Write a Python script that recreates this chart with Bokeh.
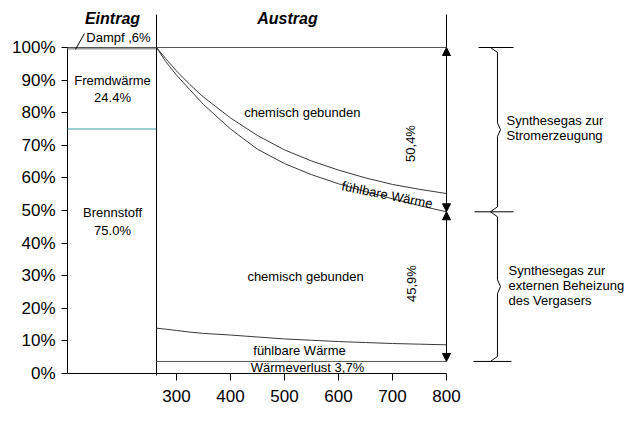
from bokeh.plotting import figure
from bokeh.models import (Range1d, FixedTicker, NumeralTickFormatter, Label, Arrow,
                          NormalHead)
from bokeh.core.properties import value
from bokeh.embed import file_html
from bokeh.resources import INLINE

# ---------------- data ----------------
temps = [263, 280, 300, 325, 350, 400, 450, 500, 550, 600, 650, 700, 750, 800]
chem_upper = [1.000, 0.966, 0.928, 0.886, 0.848, 0.784, 0.730, 0.686, 0.652, 0.624, 0.600, 0.580, 0.565, 0.552]
sens_upper = [1.000, 0.957, 0.915, 0.870, 0.825, 0.750, 0.688, 0.644, 0.610, 0.582, 0.558, 0.536, 0.515, 0.496]
sens_lower = [0.139, 0.136, 0.132, 0.127, 0.123, 0.118, 0.112, 0.106, 0.102, 0.098, 0.095, 0.092, 0.090, 0.088]
heat_loss = 0.037
fuel_share = 0.75
steam_share = 0.006
split_share = 0.496
x_ticks = [300, 400, 500, 600, 700, 800]
y_ticks = [0.0, 0.1, 0.2, 0.3, 0.4, 0.5, 0.6, 0.7, 0.8, 0.9, 1.0]

FONT = "Liberation Sans"
X0 = 94.45          # left edge of the plotting frame
XA = X0 + 3.7       # position of the drawn y-axis line
T0 = temps[0]       # boundary Eintrag / Austrag
T1 = temps[-1]

p = figure(width=635, height=432, output_backend="svg", toolbar_location=None,
           x_range=Range1d(X0, 1150), y_range=Range1d(-0.00613, 1.1442),
           min_border_left=65, min_border_right=0, min_border_top=0, min_border_bottom=57)
p.outline_line_color = None
p.xgrid.visible = False
p.ygrid.visible = False

# axes
p.xaxis.ticker = FixedTicker(ticks=x_ticks)
p.xaxis.axis_line_color = None
p.xaxis.major_tick_in = 2
p.xaxis.major_tick_out = 5
p.xaxis.minor_tick_line_color = None
p.xaxis.major_label_text_font = FONT
p.xaxis.major_label_text_font_size = "17px"
p.xaxis.major_label_standoff = 9
p.xaxis.major_label_text_color = "black"

p.yaxis.ticker = FixedTicker(ticks=y_ticks)
p.yaxis.formatter = NumeralTickFormatter(format="0%")
p.yaxis.axis_line_color = None
p.yaxis.major_tick_in = 2
p.yaxis.major_tick_out = 4
p.yaxis.minor_tick_line_color = None
p.yaxis.major_label_text_font = FONT
p.yaxis.major_label_text_font_size = "17px"
p.yaxis.major_label_standoff = 6
p.yaxis.major_label_text_color = "black"

# axis lines drawn manually
p.segment(x0=[XA], y0=[0], x1=[XA], y1=[1.0], line_color="black", line_width=1)
p.segment(x0=[XA], y0=[0], x1=[T1], y1=[0], line_color="black", line_width=1)

# Eintrag column
p.varea(x=[XA, T0], y1=[1.0 - steam_share] * 2, y2=[1.0] * 2, fill_color="#9a9a9a")
p.line([XA, T0], [fuel_share] * 2, line_color="#3a9ea0", line_width=1.2)

# top 100% line
p.line([XA, T1], [1.0, 1.0], line_color="#555555", line_width=1)

# divider and right vertical
p.segment(x0=[T0], y0=[1.101], x1=[T0], y1=[0], line_color="black", line_width=1)
p.segment(x0=[T1], y0=[1.101], x1=[T1], y1=[1.0], line_color="black", line_width=1)
p.add_layout(Arrow(x_start=T0, y_start=0, x_end=T0, y_end=-0.046, end=None,
                   line_color="black", line_width=1))

# Austrag curves
p.line(temps, chem_upper, line_color="#3a3a3a", line_width=1)
p.line(temps, sens_upper, line_color="#3a3a3a", line_width=1)
p.line(temps, sens_lower, line_color="#3a3a3a", line_width=1)
p.line([T0, T1], [heat_loss] * 2, line_color="#555555", line_width=1)

# arrows at 800 K
def head():
    return NormalHead(size=8, fill_color="black", line_color="black")

p.add_layout(Arrow(x_start=T1, y_start=split_share, x_end=T1, y_end=1.0,
                   start=head(), end=head(), line_color="black", line_width=1))
p.add_layout(Arrow(x_start=T1, y_start=split_share, x_end=T1, y_end=heat_loss,
                   start=head(), end=head(), line_color="black", line_width=1))

# braces
def brace(y0, y1, xv=894.4, curl_dx=13.0, curl_dy=0.0153, notch_dx=5.6, notch_dy=0.021):
    ym = (y0 + y1) / 2
    xs = [xv - curl_dx, xv, xv, xv + notch_dx, xv, xv, xv - curl_dx]
    ys = [y0, y0 - curl_dy, ym + notch_dy, ym, ym - notch_dy, y1 + curl_dy, y1]
    p.line(xs, ys, line_color="black", line_width=1)

brace(1.0, split_share)
brace(split_share, heat_loss)
p.segment(x0=[859.3, 851.9, 850.0], y0=[1.0, split_share, heat_loss],
          x1=[924.1, 924.1, 920.4], y1=[1.0, split_share, heat_loss],
          line_color="black", line_width=1)

# leader for Dampf
p.segment(x0=[113], y0=[0.994], x1=[129.6], y1=[1.043], line_color="black", line_width=1)

# texts
def txt(x, y, s, size="13px", angle=0.0, align="center", style="normal"):
    p.text(x=[x], y=[y], text=[s], text_font=value(FONT), text_font_size=size,
           text_align=align, text_baseline="middle", angle=angle, text_color="black",
           text_font_style=style)

txt(181.5, 1.089, "Eintrag", size="16px", style="bold italic")
txt(505.6, 1.089, "Austrag", size="16px", style="bold italic")
txt(192.6, 1.031, "Dampf ,6%")
txt(181.5, 0.899, "Fremdwärme")
txt(181.5, 0.847, "24.4%")
txt(181.5, 0.494, "Brennstoff")
txt(181.5, 0.439, "75.0%")
txt(533.0, 0.801, "chemisch gebunden")
txt(539.0, 0.298, "chemisch gebunden")
txt(690.0, 0.548, "fühlbare Wärme", angle=-0.2)
txt(527.8, 0.0706, "fühlbare Wärme")
txt(542.6, 0.019, "Wärmeverlust 3,7%")
txt(733.3, 0.7055, "50,4%", angle=1.5708)
txt(735.0, 0.276, "45,9%", angle=1.5708)
txt(911.1, 0.776, "Synthesegas zur", align="left")
txt(911.1, 0.730, "Stromerzeugung", align="left")
txt(914.8, 0.316, "Synthesegas zur", align="left")
txt(914.8, 0.270, "externen Beheizung", align="left")
txt(914.8, 0.224, "des Vergasers", align="left")

p.add_layout(Label(x=588.9, y=-0.146, text="Δt [K] der externen Beheizung",
                   text_font=FONT, text_font_size="16.5px", text_font_style="bold",
                   text_align="center", text_baseline="middle", text_color="black"))

open("out.html", "w").write(file_html(p, INLINE))
